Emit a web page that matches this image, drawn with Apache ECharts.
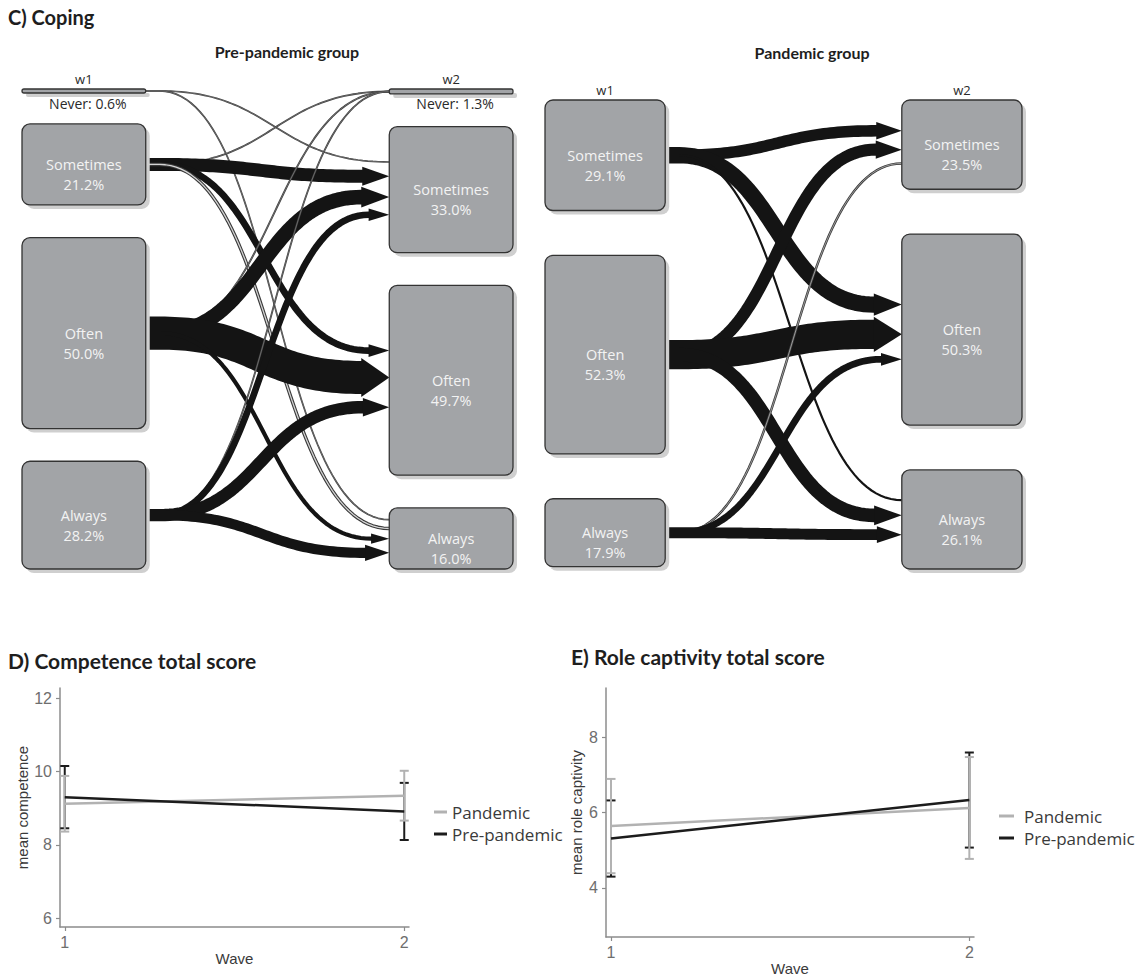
<!DOCTYPE html>
<html>
<head>
<meta charset="utf-8">
<title>Coping, competence and role captivity</title>
<script src="https://cdn.jsdelivr.net/npm/echarts@6/dist/echarts.min.js"></script>
<style>
  html, body { margin: 0; padding: 0; background: #ffffff; }
  #chart { width: 1135px; height: 979px; }
</style>
</head>
<body>
<div id="chart"></div>
<script>
// ---------- Coping: share of each answer per wave (%) ----------
const preLevels = ['Never', 'Sometimes', 'Often', 'Always'];
const preWave1 = [0.6, 21.2, 50.0, 28.2];
const preWave2 = [1.3, 33.0, 49.7, 16.0];
// transitions: [wave-1 answer, wave-2 answer, % of group]
const preFlows = [
  [0, 1, 0.3], [0, 3, 0.3],
  [1, 0, 0.4], [1, 1, 12.4], [1, 2, 6.4], [1, 3, 2.0],
  [2, 0, 0.5], [2, 1, 14.0], [2, 2, 31.5], [2, 3, 4.0],
  [3, 0, 0.4], [3, 1, 6.3], [3, 2, 11.8], [3, 3, 9.7]
];

const panLevels = ['Sometimes', 'Often', 'Always'];
const panWave1 = [29.1, 52.3, 17.9];
const panWave2 = [23.5, 50.3, 26.1];
const panFlows = [
  [0, 0, 11.0], [0, 1, 15.5], [0, 2, 2.6],
  [1, 0, 11.5], [1, 1, 27.8], [1, 2, 13.0],
  [2, 0, 1.0], [2, 1, 6.5], [2, 2, 10.4]
];

// ---------- Mean scores per wave with error bars ----------
const waves = [1, 2];
const waveTicks = [1, 2];
const competenceTicks = [6, 8, 10, 12];
const captivityTicks = [4, 6, 8];

const compPandemic = [9.12, 9.34];
const compPandemicErr = [0.76, 0.68];
const compPre = [9.30, 8.91];
const compPreErr = [0.85, 0.78];

const rolePandemic = [5.64, 6.12];
const rolePandemicErr = [1.25, 1.35];
const rolePre = [5.31, 6.33];
const rolePreErr = [1.01, 1.26];

// ---------- drawing constants ----------
const BOX_W = 0.252;      // column width as a share of the panel width
const FLOW_PX = 1.05;     // ribbon thickness in px per percent
const ARRIVE_GAP = 7;     // px between ribbons arriving at one box
const TRUNK = 14;         // straight stub leaving a box, px
const RIBBON = '#141414';
const BOX_FILL = '#a2a4a7';
const BOX_EDGE = '#333333';
const BOX_SHADOW = '#cfcfcf';
const TEXT_FONT = '"Open Sans", "Liberation Sans", Arial, sans-serif';
const TITLE_FONT = 'Lato, "Open Sans", sans-serif';
const AXIS_FONT = '"Liberation Sans", Arial, sans-serif';
const GREY = '#b2b2b2';
const DARK = '#1c1c1c';

function stackStarts(values, gap) {
  const starts = [];
  let acc = 0;
  values.forEach(v => { starts.push(acc); acc += v + gap; });
  return starts;
}

function buildPanel(levels, w1, w2, flows, gap) {
  const s1 = stackStarts(w1, gap);
  const s2 = stackStarts(w2, gap);
  const yMax = Math.max(s1[s1.length - 1] + w1[w1.length - 1], s2[s2.length - 1] + w2[w2.length - 1]);
  const offsets = new Array(flows.length).fill(0);
  levels.forEach((lv, t) => {
    if (lv === 'Never') return;
    const inc = flows.map((f, k) => ({ f, k })).filter(o => o.f[1] === t).sort((a, b) => a.f[0] - b.f[0]);
    const ws = inc.map(o => Math.max(o.f[2] * FLOW_PX, 1.5));
    const total = ws.reduce((a, b) => a + b, 0) + ARRIVE_GAP * (inc.length - 1);
    let y = -total / 2;
    inc.forEach((o, j) => { offsets[o.k] = y + ws[j] / 2; y += ws[j] + ARRIVE_GAP; });
  });
  return { levels, w1, w2, flows, s1, s2, yMax, offsets };
}

const prePanel = buildPanel(preLevels, preWave1, preWave2, preFlows, 8.55);
const panPanel = buildPanel(panLevels, panWave1, panWave2, panFlows, 11.8);

function nodeBox(api, P, col, i) {
  const vals = col === 0 ? P.w1 : P.w2;
  const st = col === 0 ? P.s1 : P.s2;
  const a = api.coord([col === 0 ? 0 : 1 - BOX_W, st[i]]);
  const b = api.coord([col === 0 ? BOX_W : 1, st[i] + vals[i]]);
  const never = P.levels[i] === 'Never';
  let h = b[1] - a[1];
  if (never) h = Math.max(h, 4);
  return { x: a[0], y: a[1], w: b[0] - a[0], h, cy: a[1] + h / 2, never, value: vals[i], name: P.levels[i] };
}

function nodeRender(P) {
  return function (params, api) {
    const col = api.value(0), i = api.value(1);
    const b = nodeBox(api, P, col, i);
    const children = [];
    const r = b.never ? 2 : 8;
    children.push({ type: 'rect', shape: { x: b.x + 4, y: b.y + 4, width: b.w, height: b.h, r },
      style: { fill: BOX_SHADOW } });
    children.push({ type: 'rect', shape: { x: b.x, y: b.y, width: b.w, height: b.h, r },
      style: { fill: BOX_FILL, stroke: BOX_EDGE, lineWidth: 1.3 } });
    if (b.never) {
      children.push({ type: 'text', x: b.x + b.w / 2 + 4, y: b.y + b.h + 10,
        style: { text: b.name + ': ' + b.value.toFixed(1) + '%', align: 'center', verticalAlign: 'middle',
          fill: '#2a2a2a', font: '14px ' + TEXT_FONT } });
    } else {
      children.push({ type: 'text', x: b.x + b.w / 2, y: b.cy + 10,
        style: { text: b.name + '\n' + b.value.toFixed(1) + '%', align: 'center', verticalAlign: 'middle',
          fill: '#f3f3f3', font: '14.5px ' + TEXT_FONT, lineHeight: 20 } });
    }
    if (i === 0) {
      children.push({ type: 'text', x: b.x + b.w / 2, y: b.y - 10,
        style: { text: 'w' + (col + 1), align: 'center', verticalAlign: 'middle',
          fill: '#2a2a2a', font: '13px ' + TEXT_FONT } });
    }
    return { type: 'group', children };
  };
}

function flowRender(P) {
  return function (params, api) {
    const k = params.dataIndex;
    const f = P.flows[k];
    const src = nodeBox(api, P, 0, f[0]);
    const tgt = nodeBox(api, P, 1, f[1]);
    const w = f[2] * FLOW_PX;
    const x0 = src.x + src.w, y0 = src.cy;
    const xt = tgt.x, yt = tgt.cy + P.offsets[k];
    const head = w >= 3;
    const hl = head ? Math.min(28, 14 + w) : 0;
    const xe = xt - hl;
    const xs = x0 + TRUNK;
    const dx = xe - xs;
    const c1 = [xs + dx * 0.5, y0], c2 = [xe - dx * 0.5, yt];
    const pts = [[x0, y0]];
    const N = 60;
    for (let n = 0; n <= N; n++) {
      const u = n / N, v = 1 - u;
      pts.push([
        v * v * v * xs + 3 * v * v * u * c1[0] + 3 * v * u * u * c2[0] + u * u * u * xe,
        v * v * v * y0 + 3 * v * v * u * c1[1] + 3 * v * u * u * c2[1] + u * u * u * yt
      ]);
    }
    const children = [];
    if (head) {
      pts.push([xe + 2, yt]);
      children.push({ type: 'polyline', shape: { points: pts },
        style: { stroke: RIBBON, lineWidth: w, fill: null, lineJoin: 'round' } });
      const hw = w / 2 + 3;
      children.push({ type: 'polygon', shape: { points: [[xe, yt - hw], [xt, yt], [xe, yt + hw]] },
        style: { fill: RIBBON } });
    } else if (w >= 2.2) {
      // narrow ribbon: solid stroke, no arrowhead
      children.push({ type: 'polyline', shape: { points: pts },
        style: { stroke: RIBBON, lineWidth: w * 0.8, fill: null, lineJoin: 'round' } });
    } else {
      // hairline ribbon: outlined band
      children.push({ type: 'polyline', shape: { points: pts },
        style: { stroke: '#3a3a3a', lineWidth: w + 1.4, fill: null, lineJoin: 'round' } });
      children.push({ type: 'polyline', shape: { points: pts },
        style: { stroke: '#d4d4d4', lineWidth: Math.max(w * 0.6, 0.3), fill: null, lineJoin: 'round' } });
    }
    return { type: 'group', children };
  };
}

function nodeData(P) {
  const d = [];
  P.w1.forEach((v, i) => d.push([0, i]));
  P.w2.forEach((v, i) => d.push([1, i]));
  return d;
}

function errRender(color) {
  return function (params, api) {
    const x = api.value(0), m = api.value(1), e = api.value(2);
    const top = api.coord([x, m + e]), bot = api.coord([x, m - e]);
    const cw = 4.5;
    const st = { stroke: color, lineWidth: 2 };
    return { type: 'group', children: [
      { type: 'line', shape: { x1: top[0], y1: top[1], x2: bot[0], y2: bot[1] }, style: st },
      { type: 'line', shape: { x1: top[0] - cw, y1: top[1], x2: top[0] + cw, y2: top[1] }, style: st },
      { type: 'line', shape: { x1: bot[0] - cw, y1: bot[1], x2: bot[0] + cw, y2: bot[1] }, style: st }
    ] };
  };
}

const zip = (xs, ys) => xs.map((x, i) => [x, ys[i]]);
const zip3 = (xs, ys, es) => xs.map((x, i) => [x, ys[i], es[i]]);

function valueXAxis(gridIndex, min, max) {
  return {
    type: 'value', gridIndex, min, max,
    name: 'Wave', nameLocation: 'middle', nameGap: 24,
    nameTextStyle: { color: '#3a3a3a', fontSize: 15, fontFamily: AXIS_FONT },
    axisLine: { show: true, onZero: false, lineStyle: { color: '#8c8c8c', width: 1.5 } },
    axisTick: { show: true, length: 4, customValues: waveTicks, lineStyle: { color: '#8c8c8c', width: 1.2 } },
    axisLabel: { customValues: waveTicks, color: '#6e6e6e', fontSize: 16, margin: 7, fontFamily: AXIS_FONT },
    splitLine: { show: false }
  };
}
function valueYAxis(gridIndex, min, max, ticks, name, nameGap) {
  return {
    type: 'value', gridIndex, min, max,
    name, nameLocation: 'middle', nameGap, nameRotate: 90,
    nameTextStyle: { color: '#3a3a3a', fontSize: 15, fontFamily: AXIS_FONT },
    axisLine: { show: true, onZero: false, lineStyle: { color: '#8c8c8c', width: 1.5 } },
    axisTick: { show: true, length: 4, customValues: ticks, lineStyle: { color: '#8c8c8c', width: 1.2 } },
    axisLabel: { customValues: ticks, color: '#6e6e6e', fontSize: 16, margin: 8, fontFamily: AXIS_FONT },
    splitLine: { show: false }
  };
}

const legendBase = {
  orient: 'vertical', icon: 'rect', itemHeight: 3, itemGap: 2,
  data: ['Pandemic', 'Pre-pandemic'],
  textStyle: { fontSize: 17, color: '#3a3a3a', fontFamily: TEXT_FONT, lineHeight: 20 },
  selectedMode: false
};

const option = {
  backgroundColor: '#ffffff',
  animation: false,
  grid: [
    { left: 22, top: 89, width: 491, height: 480 },
    { left: 545, top: 100, width: 477, height: 469 },
    { left: 60, top: 688, width: 349, height: 239 },
    { left: 606, top: 688, width: 368, height: 249 }
  ],
  xAxis: [
    { type: 'value', gridIndex: 0, min: 0, max: 1, show: false },
    { type: 'value', gridIndex: 1, min: 0, max: 1, show: false },
    valueXAxis(2, 0.986, 2.014),
    valueXAxis(3, 0.986, 2.013)
  ],
  yAxis: [
    { type: 'value', gridIndex: 0, min: 0, max: prePanel.yMax, inverse: true, show: false },
    { type: 'value', gridIndex: 1, min: 0, max: panPanel.yMax, inverse: true, show: false },
    valueYAxis(2, 5.755, 12.28, competenceTicks, 'mean competence', 18),
    valueYAxis(3, 2.70, 9.30, captivityTicks, 'mean role captivity', 22)
  ],
  legend: [
    Object.assign({ left: 429, top: 797, itemWidth: 13 }, legendBase),
    Object.assign({ left: 994, top: 801, itemWidth: 15 }, legendBase, {
      textStyle: Object.assign({}, legendBase.textStyle, { padding: [0, 0, 0, 5] }) })
  ],
  graphic: [
    { type: 'text', x: 8, y: 17, style: { text: 'C) Coping', verticalAlign: 'middle', font: 'bold 20px ' + TITLE_FONT, fill: '#1e1e1e' } },
    { type: 'text', x: 287, y: 51, style: { text: 'Pre-pandemic group', align: 'center', verticalAlign: 'middle', font: 'bold 16px ' + TITLE_FONT, fill: '#1e1e1e' } },
    { type: 'text', x: 812, y: 52, style: { text: 'Pandemic group', align: 'center', verticalAlign: 'middle', font: 'bold 16px ' + TITLE_FONT, fill: '#1e1e1e' } },
    { type: 'text', x: 8, y: 660, style: { text: 'D) Competence total score', verticalAlign: 'middle', font: 'bold 21px ' + TITLE_FONT, fill: '#1e1e1e' } },
    { type: 'text', x: 571, y: 656, style: { text: 'E) Role captivity total score', verticalAlign: 'middle', font: 'bold 21px ' + TITLE_FONT, fill: '#1e1e1e' } }
  ],
  series: [
    // coping transitions
    { type: 'custom', name: 'pre-flows', xAxisIndex: 0, yAxisIndex: 0, z: 2, silent: true, clip: false,
      renderItem: flowRender(prePanel), data: preFlows },
    { type: 'custom', name: 'pre-nodes', xAxisIndex: 0, yAxisIndex: 0, z: 3, silent: true, clip: false,
      renderItem: nodeRender(prePanel), data: nodeData(prePanel) },
    { type: 'custom', name: 'pan-flows', xAxisIndex: 1, yAxisIndex: 1, z: 2, silent: true, clip: false,
      renderItem: flowRender(panPanel), data: panFlows },
    { type: 'custom', name: 'pan-nodes', xAxisIndex: 1, yAxisIndex: 1, z: 3, silent: true, clip: false,
      renderItem: nodeRender(panPanel), data: nodeData(panPanel) },

    // competence
    { type: 'line', name: 'Pandemic', xAxisIndex: 2, yAxisIndex: 2, z: 4, color: GREY, symbol: 'none',
      lineStyle: { width: 2.5, color: GREY }, data: zip(waves, compPandemic) },
    { type: 'line', name: 'Pre-pandemic', xAxisIndex: 2, yAxisIndex: 2, z: 5, color: DARK, symbol: 'none',
      lineStyle: { width: 2.5, color: DARK }, data: zip(waves, compPre) },
    { type: 'custom', name: 'Pre-pandemic', xAxisIndex: 2, yAxisIndex: 2, z: 2, color: DARK, silent: true,
      renderItem: errRender(DARK), data: zip3(waves, compPre, compPreErr) },
    { type: 'custom', name: 'Pandemic', xAxisIndex: 2, yAxisIndex: 2, z: 3, color: GREY, silent: true,
      renderItem: errRender(GREY), data: zip3(waves, compPandemic, compPandemicErr) },

    // role captivity
    { type: 'line', name: 'Pandemic', xAxisIndex: 3, yAxisIndex: 3, z: 4, color: GREY, symbol: 'none',
      lineStyle: { width: 2.5, color: GREY }, data: zip(waves, rolePandemic) },
    { type: 'line', name: 'Pre-pandemic', xAxisIndex: 3, yAxisIndex: 3, z: 5, color: DARK, symbol: 'none',
      lineStyle: { width: 2.5, color: DARK }, data: zip(waves, rolePre) },
    { type: 'custom', name: 'Pre-pandemic', xAxisIndex: 3, yAxisIndex: 3, z: 2, color: DARK, silent: true,
      renderItem: errRender(DARK), data: zip3(waves, rolePre, rolePreErr) },
    { type: 'custom', name: 'Pandemic', xAxisIndex: 3, yAxisIndex: 3, z: 3, color: GREY, silent: true,
      renderItem: errRender(GREY), data: zip3(waves, rolePandemic, rolePandemicErr) }
  ]
};

const chart = echarts.init(document.getElementById('chart'), null, { renderer: 'svg' });
chart.setOption(option);
</script>
</body>
</html>
